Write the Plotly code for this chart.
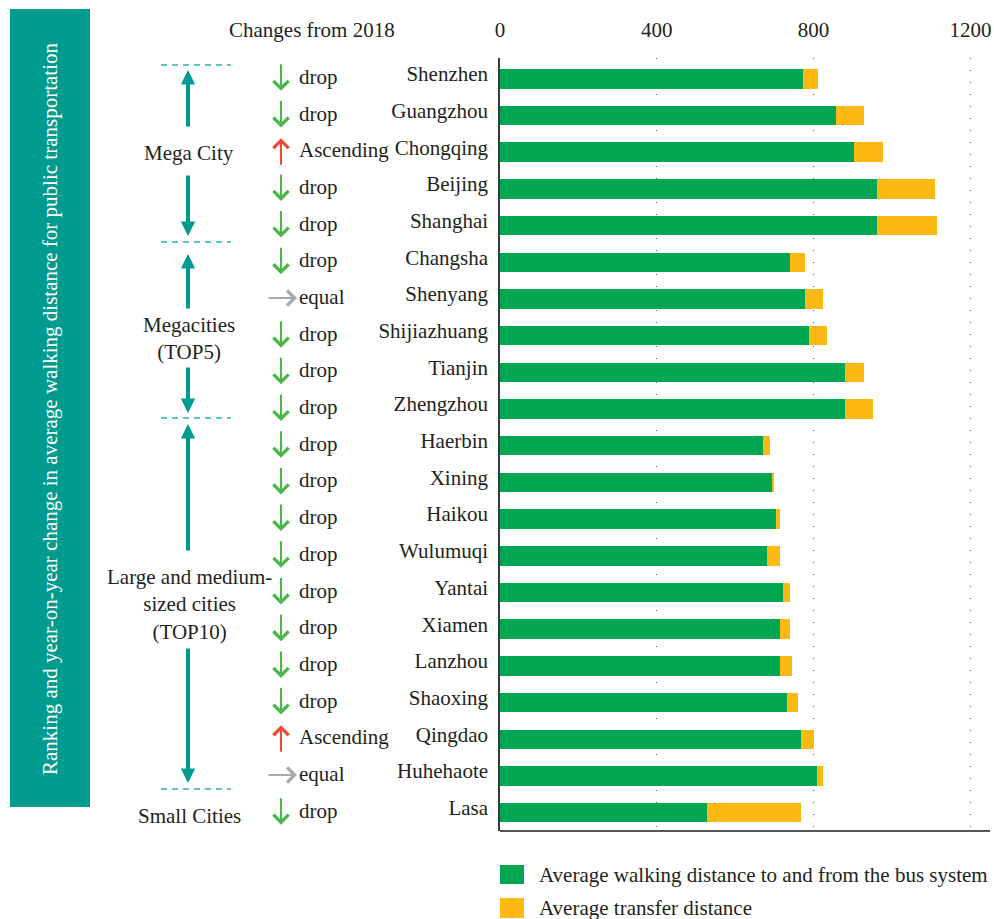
import plotly.graph_objects as go

# ---------------- data ----------------
cities = ["Shenzhen", "Guangzhou", "Chongqing", "Beijing", "Shanghai",
          "Changsha", "Shenyang", "Shijiazhuang", "Tianjin", "Zhengzhou",
          "Haerbin", "Xining", "Haikou", "Wulumuqi", "Yantai", "Xiamen",
          "Lanzhou", "Shaoxing", "Qingdao", "Huhehaote", "Lasa"]
walking = [772, 856, 904, 961, 961,
           739, 777, 787, 879, 879,
           672, 693, 705, 680, 721, 713,
           713, 733, 767, 808, 527]
transfer = [38, 72, 74, 148, 153,
            40, 48, 46, 49, 72,
            16, 7, 8, 33, 18, 26,
            33, 28, 35, 15, 242]
changes = ["drop", "drop", "Ascending", "drop", "drop",
           "drop", "equal", "drop", "drop", "drop",
           "drop", "drop", "drop", "drop", "drop", "drop",
           "drop", "drop", "Ascending", "equal", "drop"]
x_ticks = [0, 400, 800, 1200]
series_names = ["Average walking distance to and from the bus system",
                "Average transfer distance"]
side_title = "Ranking and year-on-year change in average walking distance for public transportation"
header = "Changes from 2018"

# ---------------- style ----------------
FONT = "Liberation Serif"
TXT = "#231f20"
GREEN = "#00a651"
ORANGE = "#fdb913"
TEAL = "#009b8f"
TEAL_DASH = "#2fb0a7"
ARROW_COL = {"drop": "#4cb748", "Ascending": "#ee4b36", "equal": "#a7a9ac"}

W, H = 994, 919
L, R, T, B = 500, 4, 58, 88
PW, PH = W - L - R, H - T - B


def px(xp):
    return (xp - L) / PW


def py(yp):
    return (H - B - yp) / PH


fig = go.Figure()
fig.add_trace(go.Bar(y=cities, x=walking, orientation="h", name=series_names[0],
                     marker=dict(color=GREEN, line=dict(width=0))))
fig.add_trace(go.Bar(y=cities, x=transfer, orientation="h", name=series_names[1],
                     marker=dict(color=ORANGE, line=dict(width=0))))

annotations = []
shapes = []

# change indicators
AS, AW = 1.4, 2.1
for c, ch in zip(cities, changes):
    col = ARROW_COL[ch]
    if ch == "drop":
        annotations.append(dict(x=px(281), y=c, xref="paper", yref="y", text="",
                                showarrow=True, ax=0, ay=-28, yshift=-12,
                                arrowhead=4, arrowsize=AS, arrowwidth=AW, arrowcolor=col))
    elif ch == "Ascending":
        annotations.append(dict(x=px(281), y=c, xref="paper", yref="y", text="",
                                showarrow=True, ax=0, ay=28, yshift=14,
                                arrowhead=4, arrowsize=AS, arrowwidth=AW, arrowcolor=col))
    else:
        annotations.append(dict(x=px(297), y=c, xref="paper", yref="y", text="",
                                showarrow=True, ax=-30, ay=0, yshift=1,
                                arrowhead=4, arrowsize=AS, arrowwidth=AW, arrowcolor=col))
    annotations.append(dict(x=px(297), y=c, xref="paper", yref="y", text=ch,
                            showarrow=False, xanchor="left", yanchor="middle", yshift=2,
                            font=dict(family=FONT, size=21, color=TXT)))

# header
annotations.append(dict(x=px(312), y=py(30), xref="paper", yref="paper", text=header,
                        showarrow=False, xanchor="center", yanchor="middle",
                        font=dict(family=FONT, size=21, color=TXT)))

# group labels (left panel)
group_labels = [("Mega City", 153), ("Megacities<br>(TOP5)", 339),
                ("Large and medium-<br>sized cities<br>(TOP10)", 604), ("Small Cities", 816)]
for txt, yc in group_labels:
    annotations.append(dict(x=px(189), y=py(yc), xref="paper", yref="paper", text=txt,
                            showarrow=False, xanchor="center", yanchor="middle",
                            font=dict(family=FONT, size=21, color=TXT)))

# teal arrows (tip_y, tail_y)
teal_arrows = [(70, 128), (236, 174), (254, 310), (413, 366), (424, 552), (783, 647)]
for tip, tail in teal_arrows:
    annotations.append(dict(x=px(188), y=py(tip), xref="paper", yref="paper", text="",
                            showarrow=True, ax=0, ay=tail - tip,
                            arrowhead=2, arrowsize=0.72, arrowwidth=4, arrowcolor=TEAL))

# dashed separators
for yd in [65, 242, 418, 789]:
    shapes.append(dict(type="line", xref="paper", yref="paper", x0=px(161), x1=px(231),
                       y0=py(yd), y1=py(yd), line=dict(color=TEAL_DASH, width=1.5, dash="6px,5px")))

# left teal box with vertical title
shapes.append(dict(type="rect", xref="paper", yref="paper", x0=px(10), x1=px(90),
                   y0=py(807), y1=py(9), fillcolor=TEAL, line=dict(width=0), layer="below"))
annotations.append(dict(x=px(50), y=py(409), xref="paper", yref="paper", text=side_title,
                        showarrow=False, textangle=-90, xanchor="center", yanchor="middle",
                        font=dict(family=FONT, size=21, color="white")))

# bottom axis line
shapes.append(dict(type="line", xref="paper", yref="paper", x0=0, x1=1, y0=0, y1=0,
                   line=dict(color="#555555", width=2)))

# legend (custom swatches)
legend_rows = [(GREEN, series_names[0], 865, 884), (ORANGE, series_names[1], 898, 918)]
for col, name, y0, y1 in legend_rows:
    shapes.append(dict(type="rect", xref="paper", yref="paper", x0=px(500), x1=px(524),
                       y0=py(y1), y1=py(y0), fillcolor=col, line=dict(width=0)))
    annotations.append(dict(x=px(537), y=py((y0 + y1) / 2), xref="paper", yref="paper", text=name,
                            showarrow=False, xanchor="left", yanchor="middle",
                            font=dict(family=FONT, size=21, color=TXT)))

fig.update_layout(
    width=W, height=H,
    margin=dict(l=L, r=R, t=T, b=B, pad=0),
    paper_bgcolor="white", plot_bgcolor="white",
    barmode="stack", bargap=0.47,
    showlegend=False,
    font=dict(family=FONT, size=21, color=TXT),
    annotations=annotations, shapes=shapes,
    xaxis=dict(range=[0, 1250], side="top", tickvals=x_ticks, ticktext=[str(v) for v in x_ticks],
               showgrid=True, gridcolor="#555555", gridwidth=1, griddash="1px,11px",
               zeroline=False, showline=False, ticks="", ticklabelstandoff=16,
               tickfont=dict(family=FONT, size=21, color=TXT)),
    yaxis=dict(type="category", categoryorder="array", categoryarray=cities,
               autorange="reversed", showline=True, linecolor="#3a3a3a", linewidth=1.5,
               showgrid=False, zeroline=False, ticks="", ticklabelstandoff=6,
               ticklabelshift=5,
               tickfont=dict(family=FONT, size=21, color=TXT)),
)

fig.write_html("out.html", config={"displayModeBar": False},
               post_script="document.body.style.margin='0px';document.body.style.padding='0px';"
                           "document.documentElement.style.overflow='hidden';")
